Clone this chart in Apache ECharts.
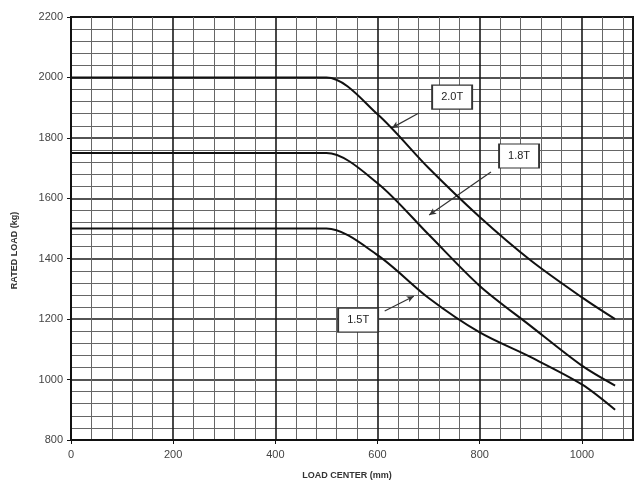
<!DOCTYPE html>
<html><head><meta charset="utf-8">
<script src="https://cdn.jsdelivr.net/npm/echarts@6/dist/echarts.min.js"></script>
<style>html,body{margin:0;padding:0;background:#fff}#c{width:637px;height:481px}</style>
</head><body><div id="c"></div>
<script>
// Load center (mm)
const x20 = [0, 500, 600, 700, 800, 900, 1000, 1065];
const load20 = [2000, 2000, 1878, 1700, 1538, 1394, 1272, 1200];
const x18 = [0, 500, 600, 700, 800, 900, 1000, 1065];
const load18 = [1750, 1750, 1650, 1480, 1310, 1177, 1046, 980];
const x15 = [0, 500, 600, 700, 800, 900, 1000, 1065];
const load15 = [1500, 1500, 1412, 1270, 1156, 1074, 984, 900];
const seriesNames = ['2.0T', '1.8T', '1.5T'];
// annotation: box center, arrow start, arrow end (data coords)
const boxes = [[746, 1935], [877, 1740], [562, 1197]];
const arrowFrom = [[681, 1882], [822, 1687], [614, 1227]];
const arrowTo = [[628, 1833], [701, 1545], [671, 1276]];

const pair = (xs, ys) => xs.map((x, i) => [x, ys[i]]);
const data = [pair(x20, load20), pair(x18, load18), pair(x15, load15)];
const FONT = 'Liberation Sans, Arial, sans-serif';

const chart = echarts.init(document.getElementById('c'));
const series = data.map((d, i) => ({
  name: seriesNames[i], type: 'line', data: d, symbol: 'none', smooth: 0.3,
  lineStyle: {color: '#111', width: 2}, z: 5,
  markPoint: {
    symbol: 'rect', symbolSize: [40, 24],
    itemStyle: {color: '#fff', borderColor: '#333', borderWidth: 1.5},
    label: {show: true, formatter: seriesNames[i], color: '#222', fontSize: 11, fontFamily: FONT},
    data: [{coord: boxes[i]}], animation: false
  },
  markLine: {
    silent: true, symbol: ['none', 'arrow'], symbolSize: [5, 7],
    lineStyle: {color: '#333', width: 1.2, type: 'solid'}, label: {show: false},
    data: [[{coord: arrowFrom[i]}, {coord: arrowTo[i]}]], animation: false
  }
}));

chart.setOption({
  animation: false,
  backgroundColor: '#fff',
  grid: {left: 71, top: 17, right: 4, bottom: 41, show: true, borderColor: '#111', borderWidth: 2,
    outerBoundsMode: 'none', containLabel: false},
  xAxis: {
    type: 'value', min: 0, max: 1100, interval: 200,
    name: 'LOAD CENTER (mm)', nameLocation: 'middle', nameGap: 31,
    nameTextStyle: {fontSize: 9, fontWeight: 'bold', color: '#333', fontFamily: FONT, padding: [0, 10, 0, 0]},
    axisLine: {lineStyle: {color: '#111', width: 2}},
    axisTick: {show: true, length: 4, lineStyle: {color: '#111'}},
    axisLabel: {fontSize: 11, color: '#444', margin: 9, fontFamily: FONT, showMaxLabel: false,
      formatter: v => String(v)},
    splitLine: {lineStyle: {color: '#1a1a1a', width: 1.6}},
    minorTick: {show: false, splitNumber: 5},
    minorSplitLine: {show: true, lineStyle: {color: '#666', width: 1}}
  },
  yAxis: {
    type: 'value', min: 800, max: 2200, interval: 200,
    name: 'RATED LOAD (kg)', nameLocation: 'middle', nameGap: 52,
    nameTextStyle: {fontSize: 9, fontWeight: 'bold', color: '#333', fontFamily: FONT, padding: [0, 44, 0, 0]},
    axisLine: {show: true, lineStyle: {color: '#111', width: 2}},
    axisTick: {show: true, length: 4, lineStyle: {color: '#111'}},
    axisLabel: {fontSize: 11, color: '#444', margin: 8, fontFamily: FONT, formatter: v => String(v)},
    splitLine: {lineStyle: {color: '#1a1a1a', width: 1.6}},
    minorTick: {show: false, splitNumber: 5},
    minorSplitLine: {show: true, lineStyle: {color: '#666', width: 1}}
  },
  series: series
});
</script></body></html>
